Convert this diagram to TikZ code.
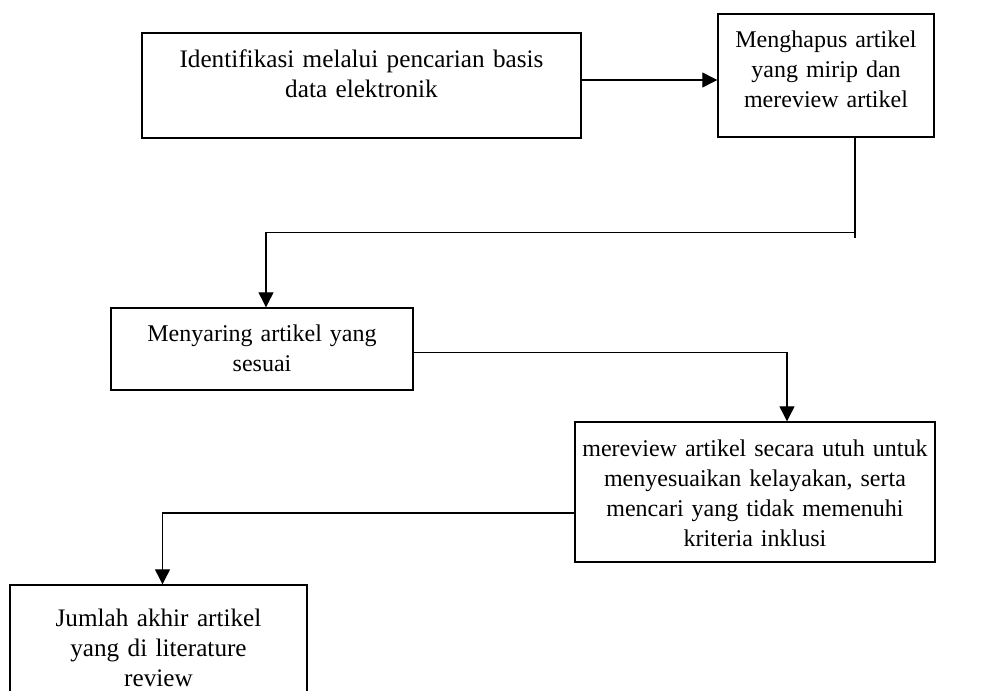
\documentclass[tikz,border=0pt]{standalone}
\usepackage{fontspec}
\setmainfont{Liberation Serif}
\usetikzlibrary{arrows.meta,calc}
\tikzset{
  box/.style={draw=black, line width=0.7pt, inner sep=0pt, fill=none},
  txt/.style={inner sep=0pt, align=center, anchor=base, text width=250pt,
    font=\fontsize{12.6}{15}\selectfont},
  smalltxt/.style={txt, font=\fontsize{12}{15}\selectfont},
  conn/.style={draw=black, line width=0.6pt},
  arr/.style={conn, -{Triangle[length=7.5pt,width=7.5pt]}}
}
\begin{document}
\begin{tikzpicture}[x=0.5pt,y=-0.5pt]
\useasboundingbox (0,0) rectangle (986,691);
\fill[white] (0,0) rectangle (986,691);
\clip (0,0) rectangle (986,691);
% boxes
\node[box, minimum width=219.5pt, minimum height=52.5pt] (b1) at (361.5,85.5) {};
\node[box, minimum width=108pt, minimum height=61.5pt] (b2) at (826,75.5) {};
\node[box, minimum width=151pt, minimum height=41pt] (b3) at (262,349) {};
\node[box, minimum width=180pt, minimum height=70pt] (b4) at (755,492) {};
\node[box, minimum width=148.5pt, minimum height=67.5pt] (b5) at (158.5,652.5) {};
% texts
\node[txt] (t1) at ([yshift=-17.5pt]b1.north) {Identifikasi melalui pencarian basis\\data elektronik};
\node[smalltxt] (t2) at ([yshift=-17pt]b2.north) {Menghapus artikel\\yang mirip dan\\mereview artikel};
\node[smalltxt] (t3) at ([yshift=-17pt]b3.north) {Menyaring artikel yang\\sesuai};
\node[smalltxt] (t4) at ([yshift=-17.5pt]b4.north) {mereview artikel secara utuh untuk\\menyesuaikan kelayakan, serta\\mencari yang tidak memenuhi\\kriteria inklusi};
\node[txt] (t5) at ([yshift=-21pt]b5.north) {Jumlah akhir artikel\\yang di literature\\review};
% connectors
\coordinate (s1) at ([yshift=2.75pt]b1.east);
\draw[arr] (s1) -- (s1 -| b2.west);
\coordinate (s2) at ([xshift=14.5pt]b2.south);
\coordinate (e2) at ([xshift=2pt]b3.north);
\coordinate (k2) at (0,232.7);
\coordinate (tick) at (0,238);
\draw[conn] (s2) -- (s2 |- tick);
\draw[arr] (s2 |- k2) -- (e2 |- k2) -- (e2);
\coordinate (s3) at ([yshift=-1.75pt]b3.east);
\coordinate (e3) at ([xshift=16pt]b4.north);
\draw[arr] (s3) -- (s3 -| e3) -- (e3);
\coordinate (s4) at ([yshift=-10.5pt]b4.west);
\coordinate (e4) at ([xshift=2pt]b5.north);
\draw[arr] (s4) -- (s4 -| e4) -- (e4);
\end{tikzpicture}
\end{document}
